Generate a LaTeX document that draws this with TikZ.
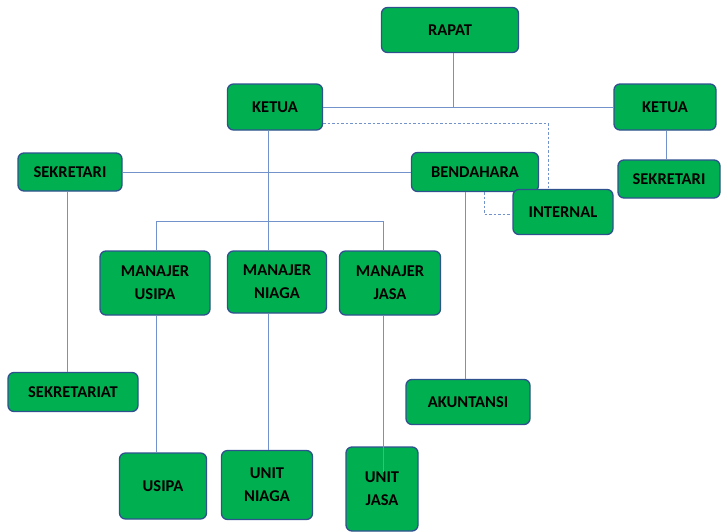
\documentclass[tikz,border=0pt]{standalone}
\usepackage{fontspec}
\setmainfont{Carlito}
\definecolor{boxgreen}{RGB}{0,176,80}
\definecolor{boxedge}{RGB}{47,82,143}
\definecolor{linkblue}{RGB}{114,146,204}
\tikzset{
  unit/.style={draw=boxedge,fill=boxgreen,line width=1.3pt,rounded corners=6pt,
    align=center,font=\fontsize{16.5}{23}\selectfont\bfseries,inner sep=0pt},
  link/.style={draw=linkblue,line width=0.9pt},
  dlink/.style={draw=linkblue,line width=0.9pt,dash pattern=on 2.5pt off 2pt}
}
\begin{document}
\begin{tikzpicture}[x=1pt,y=-1pt]
  \useasboundingbox (0,0) rectangle (723,531);
  % boxes
  \node[unit,minimum width=137pt,minimum height=45pt] (rapat) at (450,30) {RAPAT};
  \node[unit,minimum width=95pt,minimum height=46pt] (ketua) at (275,107) {KETUA};
  \node[unit,minimum width=102pt,minimum height=46pt] (ketua2) at (665,107) {KETUA};
  \node[unit,minimum width=104pt,minimum height=38pt] (sekretari) at (70,172) {SEKRETARI};
  \node[unit,minimum width=127pt,minimum height=39pt] (bendahara) at (475,172) {BENDAHARA};
  \node[unit,minimum width=102pt,minimum height=38pt] (sekretari2) at (669,179) {SEKRETARI};
  \node[unit,minimum width=100pt,minimum height=45pt] (internal) at (563,212) {INTERNAL};
  \node[unit,minimum width=110pt,minimum height=64pt] (musipa) at (155,283) {MANAJER\\USIPA};
  \node[unit,minimum width=99pt,minimum height=62pt] (mniaga) at (277,282) {MANAJER\\NIAGA};
  \node[unit,minimum width=101pt,minimum height=64pt] (mjasa) at (390,283) {MANAJER\\JASA};
  \node[unit,minimum width=130pt,minimum height=39pt] (sekretariat) at (73,392) {SEKRETARIAT};
  \node[unit,minimum width=124pt,minimum height=45pt] (akuntansi) at (468,402) {AKUNTANSI};
  \node[unit,minimum width=87pt,minimum height=66pt] (usipa) at (163,486) {USIPA};
  \node[unit,minimum width=91pt,minimum height=69pt] (uniaga) at (267,485) {UNIT\\NIAGA};
  \node[unit,minimum width=72pt,minimum height=84pt] (ujasa) at (382,489) {UNIT\\JASA};
  % lines
  \draw[link] (ketua.east) -- (ketua2.west);
  \draw[link] (rapat.south -| 453,0) -- (453,107);
  \draw[link] (sekretari.east) -- (bendahara.west);
  \draw[link] (ketua.south -| 268,0) -- (mniaga.north -| 268,0);
  \draw[link] (musipa.north -| 156,0) |- (383,221) -- (mjasa.north -| 383,0);
  \draw[link] (sekretari.south -| 67,0) -- (sekretariat.north -| 67,0);
  \draw[link] (musipa.south -| 156,0) -- (usipa.north -| 156,0);
  \draw[link] (mniaga.south -| 268,0) -- (uniaga.north -| 268,0);
  \draw[link] (mjasa.south -| 383,0) -- (383,472);
  \draw[link] (ketua2.south -| 666,0) -- (sekretari2.north -| 666,0);
  \draw[link] (bendahara.south -| 465,0) -- (akuntansi.north -| 465,0);
  % dashed links to internal
  \draw[dlink] (ketua.east |- 0,123) -| (548,188);
  \draw[dlink] (bendahara.south -| 484,0) |- (internal.west |- 0,214);
\end{tikzpicture}
\end{document}
